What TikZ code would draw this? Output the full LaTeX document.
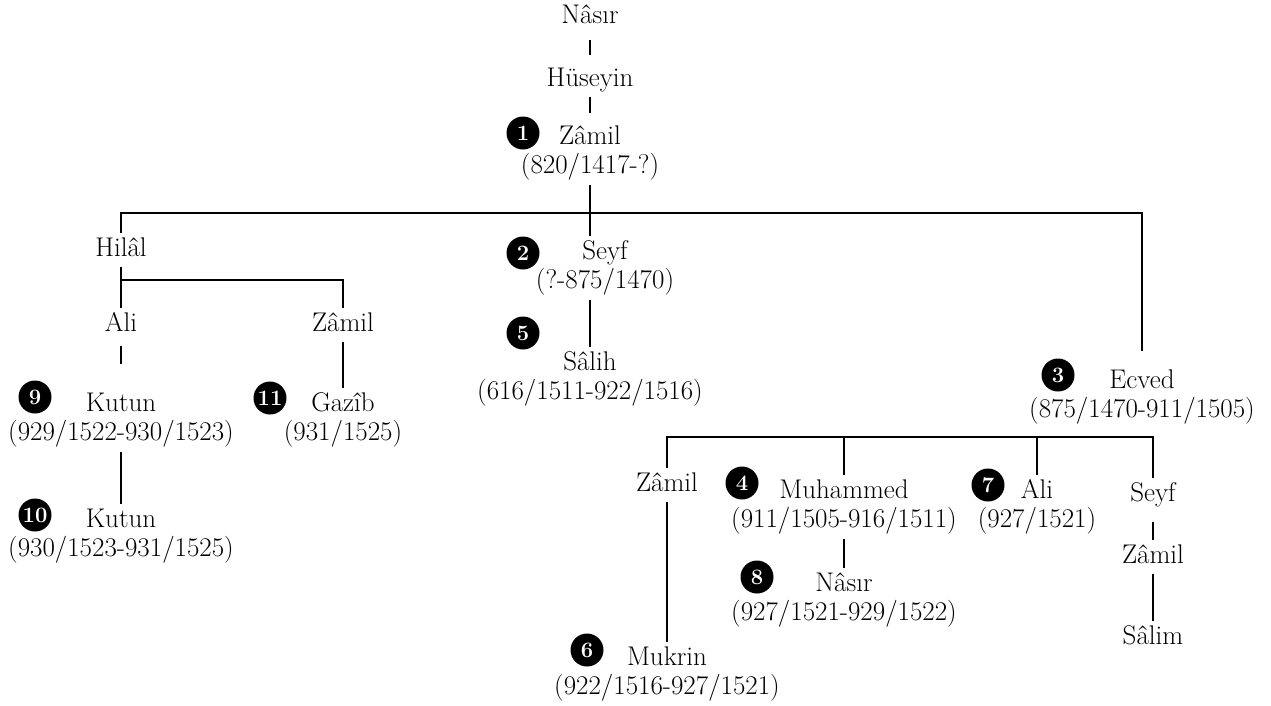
\documentclass[tikz,border=0pt]{standalone}
\begin{document}
\begin{tikzpicture}[x=1pt,y=-1pt,font=\fontsize{27}{28.5}\selectfont,
  kin/.style={inner xsep=2pt,inner ysep=5pt,text height=18pt,text depth=5pt},
  emir/.style={align=center,inner xsep=2pt,inner ysep=5pt},
  badge/.style={circle,fill=black,text=white,inner sep=0pt,minimum size=33pt,font=\fontsize{22}{22}\selectfont\bfseries},
  lineage/.style={line width=2.6pt}]
  \useasboundingbox (0,0) rectangle (1271,705);
  % top line
  \node[kin] (nasir) at (590,17) {Nâsır};
  \node[kin] (huseyin) at (590,80) {Hüseyin};
  \node[emir] (zamil) at (590,153) {Zâmil\\(820/1417-?)};
  \node[badge] (b1) at (523,133) {1};
  % sons of Zamil
  \node[kin] (hilal) at (121,250) {Hilâl};
  \node[emir] (seyf) at (605,268) {Seyf\\(?-875/1470)};
  \node[badge] (b2) at (523,253) {2};
  \node[emir] (salih) at (590,379) {Sâlih\\(616/1511-922/1516)};
  \node[badge] (b5) at (523,333) {5};
  \node[emir] (ecved) at (1142,397) {Ecved\\(875/1470-911/1505)};
  \node[badge] (b3) at (1058,375) {3};
  % Hilal's line
  \node[kin] (ali) at (121,325) {Ali};
  \node[kin] (zamilb) at (343,325) {Zâmil};
  \node[emir] (kutuna) at (121,420) {Kutun\\(929/1522-930/1523)};
  \node[badge] (b9) at (35,397) {9};
  \node[emir] (gazib) at (343,420) {Gazîb\\(931/1525)};
  \node[badge] (b11) at (270,398) {11};
  \node[emir] (kutunb) at (121,536) {Kutun\\(930/1523-931/1525)};
  \node[badge] (b10) at (35,515) {10};
  % sons of Ecved
  \node[kin] (zamilc) at (667,485) {Zâmil};
  \node[emir] (muhammed) at (844,507) {Muhammed\\(911/1505-916/1511)};
  \node[badge] (b4) at (742,483) {4};
  \node[emir] (alib) at (1037,507) {Ali\\(927/1521)};
  \node[badge] (b7) at (988,485) {7};
  \node[kin] (seyfb) at (1153,495) {Seyf};
  \node[emir] (nasirb) at (844,600) {Nâsır\\(927/1521-929/1522)};
  \node[badge] (b8) at (757,577) {8};
  \node[emir] (mukrin) at (667,674) {Mukrin\\(922/1516-927/1521)};
  \node[badge] (b6) at (587,650) {6};
  \node[kin] (zamild) at (1153,557) {Zâmil};
  \node[kin] (salim) at (1153,638) {Sâlim};
  % bars
  \coordinate (bar1) at (590,213);
  \coordinate (bar2) at (232,280);
  \coordinate (bar3) at (900,437);
  % connectors
  \draw[lineage,shorten <=6pt,shorten >=8pt] (nasir.south) -- (huseyin.north);
  \draw[lineage,shorten >=8pt] (huseyin.south) -- (zamil.north);
  \draw[lineage] (zamil.south) -- (zamil.south |- seyf.north);
  \draw[lineage,shorten >=14pt] (hilal.north) |- (bar1) -| (ecved.north);
  \draw[lineage] (seyf.south -| salih.north) -- (salih.north);
  \draw[lineage] (hilal.south) -- (ali.north);
  \draw[lineage] (ali.north |- bar2) -| (zamilb.north);
  \draw[lineage,shorten <=4pt,shorten >=24pt] (ali.south) -- (kutuna.north);
  \draw[lineage] (zamilb.south) -- (gazib.north);
  \draw[lineage] (kutuna.south) -- (kutunb.north);
  \draw[lineage] (zamilc.north) |- (bar3) -| (seyfb.north);
  \draw[lineage] (muhammed.north) -- (muhammed.north |- bar3);
  \draw[lineage] (alib.north) -- (alib.north |- bar3);
  \draw[lineage] (zamilc.south) -- (mukrin.north);
  \draw[lineage] (muhammed.south) -- (nasirb.north);
  \draw[lineage,shorten <=10pt] (seyfb.south) -- (zamild.north);
  \draw[lineage] (zamild.south) -- (salim.north);
\end{tikzpicture}
\end{document}
